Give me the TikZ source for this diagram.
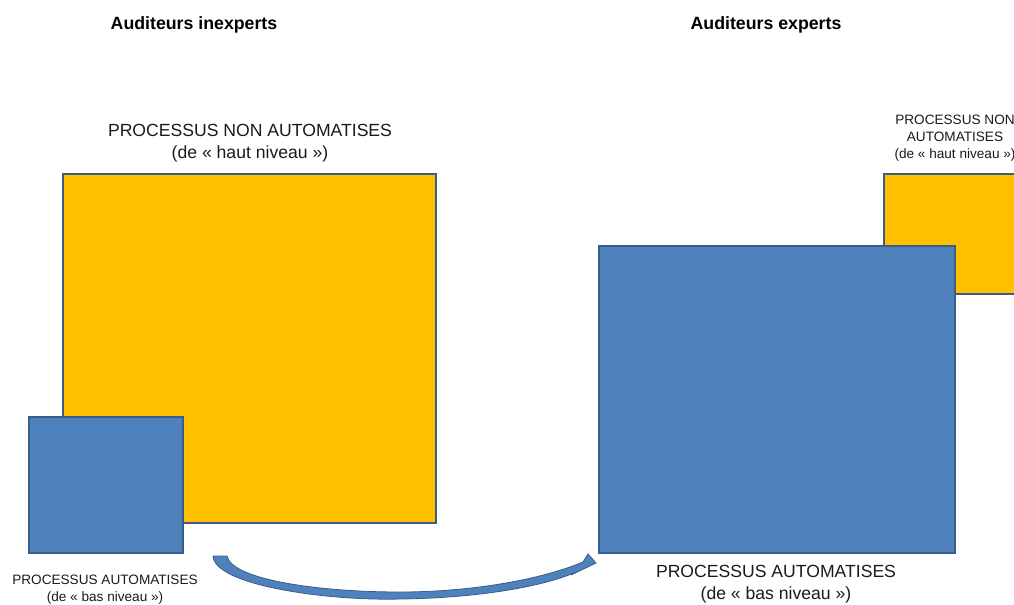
\documentclass[tikz,border=0pt]{standalone}
\usepackage{fontspec}
\setmainfont{Liberation Sans}
\definecolor{gold}{HTML}{FFC000}
\definecolor{steel}{HTML}{4F81BD}
\definecolor{edge}{HTML}{385D8A}
\definecolor{txt}{HTML}{1A1A1A}
\begin{document}
\begin{tikzpicture}[x=0.75pt,y=-0.75pt,
  goldbox/.style={fill=gold,draw=edge,line width=1.6pt},
  bluebox/.style={fill=steel,draw=edge,line width=1.6pt},
  title/.style={font=\fontsize{13.3pt}{16pt}\selectfont\bfseries,text=black},
  biglabel/.style={font=\fontsize{13.2pt}{16.5pt}\selectfont,align=center,text=txt},
  smalllabel/.style={font=\fontsize{10.2pt}{12.8pt}\selectfont,align=center,text=txt}]
\useasboundingbox (0,0) rectangle (1014,604);
\clip (0,0) rectangle (1014,604);
% titles
\node[title] (t1) at (194,25) {Auditeurs inexperts};
\node[title] (t2) at (766,25) {Auditeurs experts};
% left group
\draw[goldbox] (63,174) rectangle (436,523);
\draw[bluebox] (29,417) rectangle (183,553);
\node[biglabel] (lh) at (250,143) {PROCESSUS NON AUTOMATISES\\(de « haut niveau »)};
\node[smalllabel] (lb) at (105,590) {PROCESSUS AUTOMATISES\\(de « bas niveau »)};
% right group
\draw[goldbox] (884,174) rectangle (1030,294);
\draw[bluebox] (599,246) rectangle (955,553);
\node[smalllabel] (rh) at (955,138) {PROCESSUS NON\\AUTOMATISES\\(de « haut niveau »)};
\node[biglabel] (rb) at (776,584) {PROCESSUS AUTOMATISES\\(de « bas niveau »)};
% curved arrow
\fill[steel,draw=edge,line width=0.6pt]
  (213,556) .. controls (215,586) and (330,601) .. (400,599)
  .. controls (480,598) and (545,586) .. (576,572)
  -- (571,575) -- (596,563) -- (588,554) -- (583,562)
  .. controls (540,580) and (470,592) .. (400,592)
  .. controls (320,592) and (232,580) .. (227,556) -- cycle;
\end{tikzpicture}
\end{document}
